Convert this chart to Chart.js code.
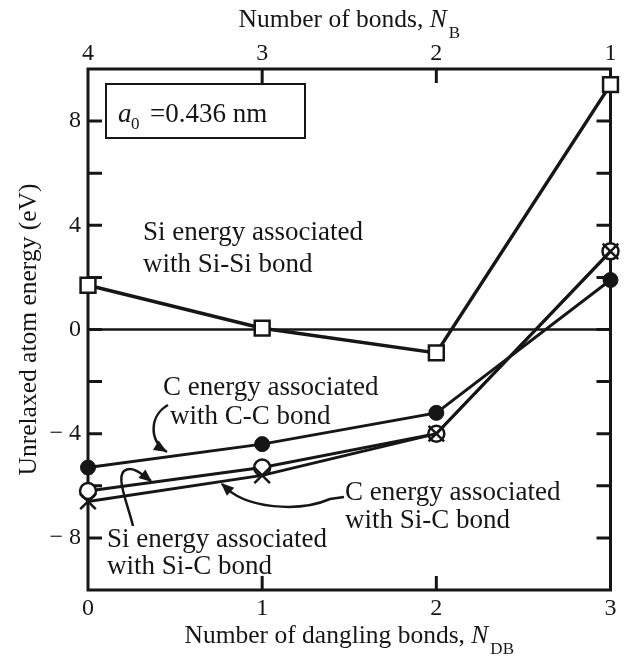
<!DOCTYPE html>
<html>
<head>
<meta charset="utf-8">
<script src="https://cdn.jsdelivr.net/npm/chart.js@4.4.1/dist/chart.umd.min.js"></script>
<style>
  html, body { margin: 0; padding: 0; background: #fff; }
</style>
</head>
<body>
<canvas id="chart" width="624" height="661"></canvas>
<script>
// Unrelaxed atom energy vs number of dangling bonds (a0 = 0.436 nm)
const danglingBonds = ["0", "1", "2", "3"];
const bondCounts = ["4", "3", "2", "1"];
const siSiEnergy = [1.7, 0.05, -0.9, 9.4];
const cCCEnergy = [-5.3, -4.4, -3.2, 1.9];
const siSiCEnergy = [-6.2, -5.3, -4.0, 3.0];
const cSiCEnergy = [-6.6, -5.6, -4.0, 3.0];
const yLabelled = [-8, -4, 0, 4, 8];

const SERIF = '"Liberation Serif", "Times New Roman", serif';
const INK = "#161616";

Chart.defaults.font.family = SERIF;
Chart.defaults.color = INK;

function arrowHead(ctx, tipX, tipY, fromX, fromY) {
  const a = Math.atan2(tipY - fromY, tipX - fromX);
  const len = 13, half = 5.5;
  ctx.beginPath();
  ctx.moveTo(tipX, tipY);
  ctx.lineTo(tipX - len * Math.cos(a) + half * Math.sin(a), tipY - len * Math.sin(a) - half * Math.cos(a));
  ctx.lineTo(tipX - len * Math.cos(a) - half * Math.sin(a), tipY - len * Math.sin(a) + half * Math.cos(a));
  ctx.closePath();
  ctx.fill();
}

// title with italic symbol and roman subscript, centred on cx
function subTitle(ctx, main, sym, sub, cx, base) {
  const big = `25.5px ${SERIF}`, ital = `italic 25.5px ${SERIF}`, small = `17px ${SERIF}`;
  ctx.font = big; const w1 = ctx.measureText(main).width;
  ctx.font = ital; const w2 = ctx.measureText(sym).width;
  ctx.font = small; const w3 = ctx.measureText(sub).width;
  let x = cx - (w1 + w2 + 2 + w3) / 2;
  ctx.textAlign = "left";
  ctx.textBaseline = "alphabetic";
  ctx.font = big; ctx.fillText(main, x, base); x += w1;
  ctx.font = ital; ctx.fillText(sym, x, base); x += w2 + 2;
  ctx.font = small; ctx.fillText(sub, x, base + 11);
}

const decorations = {
  id: "decorations",
  beforeDatasetsDraw(chart) {
    const { ctx, chartArea: a, scales } = chart;
    const y = scales.y, x = scales.x;
    ctx.save();
    ctx.strokeStyle = INK;
    ctx.lineCap = "butt";
    // zero reference line
    ctx.lineWidth = 2.5;
    const y0 = y.getPixelForValue(0);
    ctx.beginPath(); ctx.moveTo(a.left, y0); ctx.lineTo(a.right, y0); ctx.stroke();
    // frame
    ctx.lineWidth = 3;
    ctx.strokeRect(a.left, a.top, a.right - a.left, a.bottom - a.top);
    // inward ticks
    const tl = 14;
    ctx.beginPath();
    for (let v = -8; v <= 8; v += 2) {
      const py = y.getPixelForValue(v);
      ctx.moveTo(a.left, py); ctx.lineTo(a.left + tl, py);
      ctx.moveTo(a.right, py); ctx.lineTo(a.right - tl, py);
    }
    for (let i = 1; i < danglingBonds.length - 1; i++) {
      const px = x.getPixelForValue(i);
      ctx.moveTo(px, a.bottom); ctx.lineTo(px, a.bottom - tl);
      ctx.moveTo(px, a.top); ctx.lineTo(px, a.top + tl);
    }
    ctx.stroke();
    ctx.restore();
  },
  afterDatasetsDraw(chart) {
    const { ctx, chartArea: a } = chart;
    ctx.save();
    ctx.fillStyle = INK;
    ctx.strokeStyle = INK;

    // lattice constant box
    ctx.lineWidth = 2;
    ctx.fillStyle = "#fff";
    ctx.fillRect(106, 84, 199, 54);
    ctx.strokeRect(106, 84, 199, 54);
    ctx.fillStyle = INK;
    ctx.textBaseline = "alphabetic";
    ctx.textAlign = "left";
    ctx.font = `italic 27px ${SERIF}`;
    ctx.fillText("a", 118, 122);
    ctx.font = `17px ${SERIF}`;
    ctx.fillText("0", 131, 129);
    ctx.font = `27px ${SERIF}`;
    ctx.fillText("=0.436 nm", 150, 122);

    // annotations
    ctx.font = `27px ${SERIF}`;
    ctx.fillText("Si energy associated", 143, 240);
    ctx.fillText("with Si-Si bond", 143, 272);
    ctx.fillText("C energy associated", 163, 395);
    ctx.fillText("with C-C bond", 170, 424);
    ctx.fillText("C energy associated", 345, 500);
    ctx.fillText("with Si-C bond", 345, 528);
    ctx.fillText("Si energy associated", 107, 547);
    ctx.fillText("with Si-C bond", 107, 574);

    // curved arrows
    ctx.lineWidth = 2.5;
    ctx.beginPath();
    ctx.moveTo(168, 405);
    ctx.bezierCurveTo(150, 415, 148, 440, 167, 452);
    ctx.stroke();
    arrowHead(ctx, 167, 452, 152, 443);

    ctx.beginPath();
    ctx.moveTo(133, 526);
    ctx.bezierCurveTo(128, 505, 116, 478, 124, 471);
    ctx.bezierCurveTo(132, 465, 142, 474, 151, 481);
    ctx.stroke();
    arrowHead(ctx, 152, 482, 141, 473);

    ctx.beginPath();
    ctx.moveTo(344, 497);
    ctx.lineTo(330, 499);
    ctx.bezierCurveTo(300, 512, 245, 510, 222, 484);
    ctx.stroke();
    arrowHead(ctx, 221, 483, 234, 495);

    // axis titles with subscripts
    const cx = (a.left + a.right) / 2;
    subTitle(ctx, "Number of bonds, ", "N", "B", cx, 27);
    subTitle(ctx, "Number of dangling bonds, ", "N", "DB", cx, 643);
    ctx.restore();
  }
};

const markerBase = { borderColor: INK, pointBorderColor: INK, tension: 0, clip: false };

new Chart(document.getElementById("chart"), {
  type: "line",
  data: {
    labels: danglingBonds,
    datasets: [
      {
        ...markerBase,
        label: "C energy associated with Si-C bond",
        data: cSiCEnergy,
        order: 0,
        borderWidth: 3,
        pointStyle: "crossRot",
        pointRadius: 11,
        pointBorderWidth: 2.5,
        pointBackgroundColor: INK
      },
      {
        ...markerBase,
        label: "Si energy associated with Si-C bond",
        data: siSiCEnergy,
        order: 1,
        borderWidth: 3,
        pointStyle: "circle",
        pointRadius: 8,
        pointBorderWidth: 2.5,
        pointBackgroundColor: "#fff"
      },
      {
        ...markerBase,
        label: "C energy associated with C-C bond",
        data: cCCEnergy,
        order: 2,
        borderWidth: 3,
        pointStyle: "circle",
        pointRadius: 7.5,
        pointBorderWidth: 1,
        pointBackgroundColor: INK
      },
      {
        ...markerBase,
        label: "Si energy associated with Si-Si bond",
        data: siSiEnergy,
        order: 3,
        borderWidth: 3.5,
        pointStyle: "rect",
        pointRadius: 10.5,
        pointBorderWidth: 2.5,
        pointBackgroundColor: "#fff"
      }
    ]
  },
  options: {
    responsive: false,
    animation: false,
    devicePixelRatio: 1,
    layout: { padding: { right: 13, left: 0, top: 0, bottom: 0 } },
    plugins: { legend: { display: false }, tooltip: { enabled: false } },
    scales: {
      x: {
        type: "category",
        position: "bottom",
        offset: false,
        grid: { display: false, drawTicks: false },
        border: { display: false },
        ticks: { font: { size: 24 }, padding: 4, maxRotation: 0, autoSkip: false },
        afterFit: (s) => { s.height = 71; }
      },
      x2: {
        type: "category",
        labels: bondCounts,
        position: "top",
        offset: false,
        grid: { display: false, drawTicks: false },
        border: { display: false },
        ticks: { font: { size: 24 }, padding: 1, maxRotation: 0, autoSkip: false },
        afterFit: (s) => { s.height = 69; }
      },
      y: {
        type: "linear",
        min: -10,
        max: 10,
        grid: { display: false, drawTicks: false },
        border: { display: false },
        ticks: {
          stepSize: 2,
          autoSkip: false,
          padding: 7,
          font: { size: 24 },
          callback: (v) => yLabelled.includes(v) ? (v < 0 ? "\u2212 " + (-v) : String(v)) : ""
        },
        title: {
          display: true,
          text: "Unrelaxed atom energy (eV)",
          font: { size: 25.5 },
          padding: { top: 14, bottom: 0 }
        },
        afterFit: (s) => { s.width = 88; }
      }
    }
  },
  plugins: [decorations]
});
</script>
</body>
</html>
